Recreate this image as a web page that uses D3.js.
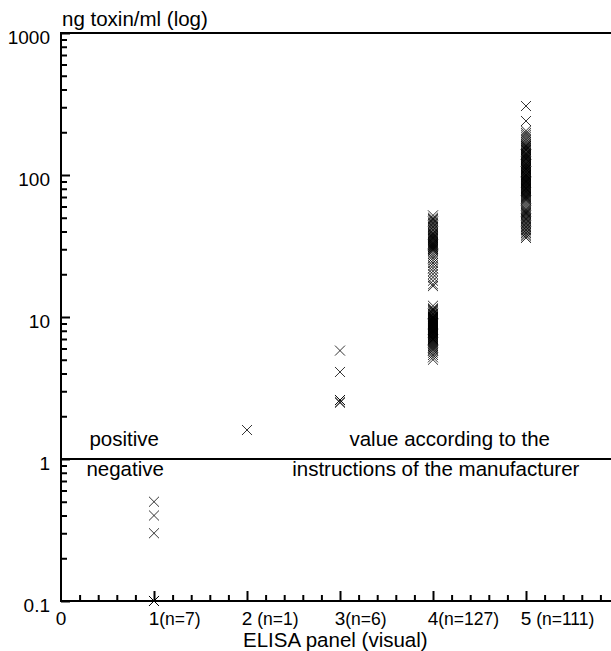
<!DOCTYPE html>
<html>
<head>
<meta charset="utf-8">
<script src="https://cdn.jsdelivr.net/npm/d3@7"></script>
<style>
  body { margin: 0; background: #fff; }
  svg { display: block; font-family: "Liberation Sans", Arial, sans-serif; }
</style>
</head>
<body>
<div id="chart"></div>
<script>
// ELISA panel score vs toxin concentration
const panels = [1, 2, 3, 4, 5]
const panelCounts = ['(n=7)', ' (n=1)', '(n=6)', '(n=127)', ' (n=111)']

const toxin1 = [0.5, 0.4, 0.3, 0.1, 0.1, 0.1, 0.1]
const toxin2 = [1.6]
const toxin3 = [5.8, 4.1, 2.6, 2.6, 2.5, 2.5]
const toxin4 = [
  52, 50, 49, 48, 47, 46, 45, 44, 43, 42, 41, 40, 39, 38.5, 38, 37.5, 37, 36.5, 36, 35.5,
  35, 34.5, 34, 33.5, 33, 33, 32.5, 32, 32, 31.5, 31, 31, 30.5, 30, 30, 29.5, 29, 28, 27, 26,
  25, 24, 23, 22, 21, 20, 19, 18, 17, 16.5,
  12, 11.5, 11.4, 11.2, 11, 10.8, 10.6, 10.5, 10.4, 10.2, 10.1, 10, 10, 9.9, 9.85, 9.8, 9.7, 9.65,
  9.6, 9.5, 9.45, 9.4, 9.3, 9.25, 9.2, 9.1, 9.05, 9, 9, 8.9, 8.85, 8.8, 8.7, 8.65, 8.6, 8.5, 8.45,
  8.4, 8.3, 8.25, 8.2, 8.1, 8.05, 8, 8, 7.9, 7.85, 7.8, 7.7, 7.65, 7.6, 7.5, 7.45, 7.4, 7.3, 7.25,
  7.2, 7.1, 7, 7, 6.95, 6.9, 6.8, 6.7, 6.6, 6.5, 6.4, 6.3, 6.2, 6.1, 6, 5.9, 5.8, 5.6, 5.4, 5.2, 5
]
const toxin5 = [
  306, 240, 205, 198, 192, 186, 180, 175, 170, 166, 162, 160, 158, 155, 152, 150, 149, 146, 143, 140,
  140, 138, 136, 134, 132, 130, 130, 128, 126, 124, 122, 120, 120, 118, 116, 115, 114, 112, 110, 110,
  109, 108, 106, 105, 104, 102, 101, 100, 100, 99, 98, 97, 96, 95, 94, 93, 92, 91, 90, 90,
  89, 88, 87, 86, 85, 84, 83, 82, 81, 80, 80, 79, 78, 77, 76, 75, 74, 73, 72, 71,
  70, 69, 68, 67, 66, 64, 62, 60, 58, 57, 56, 55, 54, 53, 52, 51, 50, 49, 48, 47,
  46, 45, 44, 43, 42, 41, 40, 39, 38, 37, 36
]
const toxinByPanel = [toxin1, toxin2, toxin3, toxin4, toxin5]

const yMajor = [0.1, 1, 10, 100, 1000]
const cutoff = 1

const svgWidth = 611, svgHeight = 651
const margin = { top: 33, left: 61 }
const width = 558, height = 568

const svg = d3.select('#chart').append('svg')
    .attr('width', svgWidth)
    .attr('height', svgHeight)

const canvas = svg.append('g')
    .attr('transform', 'translate(' + margin.left + ',' + margin.top + ')')

const x = d3.scaleLinear().domain([0, 6]).range([0, width])
const y = d3.scaleLog().domain([0.1, 1000]).range([height, 0])

// tick lists
const yMinor = []
for (let e = -1; e < 3; e++) {
  for (let m = 2; m <= 9; m++) yMinor.push(+(m * Math.pow(10, e)).toPrecision(3))
}
const xMinor = d3.range(1, 30).map(i => i / 5).filter(v => Math.abs(v - Math.round(v)) > 1e-6)

const ink = '#000'
const fsTick = 19, fsText = 20.5

// y axis
canvas.append('g')
    .call(d3.axisLeft(y).tickValues(yMinor).tickSizeInner(-6).tickSizeOuter(0).tickFormat(''))
    .call(g => g.select('.domain').remove())
    .selectAll('line').attr('stroke', ink).attr('stroke-width', 2)

canvas.append('g')
    .call(d3.axisLeft(y).tickValues(yMajor).tickSizeInner(-9).tickSizeOuter(0)
      .tickPadding(11).tickFormat(d => String(d)))
    .call(g => g.select('.domain').remove())
    .call(g => g.selectAll('line').attr('stroke', ink).attr('stroke-width', 2))
    .call(g => g.selectAll('text')
      .attr('fill', ink)
      .attr('font-size', fsTick)
      .attr('font-family', '"Liberation Sans", Arial, sans-serif')
      .attr('dy', '0.55em'))

// x axis
canvas.append('g')
    .attr('transform', 'translate(0,' + height + ')')
    .call(d3.axisBottom(x).tickValues(xMinor).tickSizeInner(-6).tickSizeOuter(0).tickFormat(''))
    .call(g => g.select('.domain').remove())
    .selectAll('line').attr('stroke', ink).attr('stroke-width', 2)

canvas.append('g')
    .attr('transform', 'translate(0,' + height + ')')
    .call(d3.axisBottom(x).tickValues(panels).tickSizeInner(-10).tickSizeOuter(0).tickFormat(''))
    .call(g => g.select('.domain').remove())
    .selectAll('line').attr('stroke', ink).attr('stroke-width', 2)

// x tick labels: big digit centered on the tick, count in smaller type after it
canvas.append('text')
    .attr('x', x(0))
    .attr('y', height + 24)
    .attr('text-anchor', 'middle')
    .attr('font-size', fsTick)
    .attr('fill', ink)
    .text('0')

const xl = canvas.append('g').selectAll('text')
  .data(panels)
  .join('text')
    .attr('x', d => x(d) - fsTick * 0.278)
    .attr('y', height + 24)
    .attr('fill', ink)

xl.append('tspan').attr('font-size', fsTick).text(d => String(d))
xl.append('tspan').attr('font-size', 17.5).text((d, i) => panelCounts[i])

// frame lines
canvas.append('line')
    .attr('x1', 0).attr('x2', width)
    .attr('y1', height).attr('y2', height)
    .attr('stroke', ink).attr('stroke-width', 2)
canvas.append('line')
    .attr('x1', 0).attr('x2', 0)
    .attr('y1', 0).attr('y2', height + 1)
    .attr('stroke', ink).attr('stroke-width', 2)
canvas.append('line')
    .attr('x1', -1).attr('x2', width)
    .attr('y1', 0).attr('y2', 0)
    .attr('stroke', ink).attr('stroke-width', 2)

// cutoff line
canvas.append('line')
    .attr('x1', 0).attr('x2', width)
    .attr('y1', y(cutoff)).attr('y2', y(cutoff))
    .attr('stroke', ink).attr('stroke-width', 2)

const note = (tx, ty, s) => canvas.append('text')
    .attr('x', tx).attr('y', ty)
    .attr('text-anchor', 'middle')
    .attr('font-size', fsText)
    .attr('fill', ink)
    .text(s)

note(x(0.68), y(cutoff) - 13, 'positive')
note(x(0.69), y(cutoff) + 17, 'negative')
note(x(4.18), y(cutoff) - 13, 'value according to the')
note(x(4.03), y(cutoff) + 17, 'instructions of the manufacturer')

// titles
canvas.append('text')
    .attr('x', 1)
    .attr('y', -7)
    .attr('font-size', fsText)
    .attr('fill', ink)
    .text('ng toxin/ml (log)')

canvas.append('text')
    .attr('x', x(2.95))
    .attr('y', height + 46)
    .attr('text-anchor', 'middle')
    .attr('font-size', fsText)
    .attr('fill', ink)
    .text('ELISA panel (visual)')

// points
const points = []
toxinByPanel.forEach((vals, i) => vals.forEach(v => points.push({ panel: panels[i], value: v })))

const cross = d3.symbol().type(d3.symbolTimes).size(67)

canvas.append('g')
  .selectAll('path')
  .data(points)
  .join('path')
    .attr('transform', d => 'translate(' + x(d.panel) + ',' + y(d.value) + ')')
    .attr('d', cross)
    .attr('fill', 'none')
    .attr('stroke', ink)
    .attr('stroke-width', 0.8)
</script>
</body>
</html>
